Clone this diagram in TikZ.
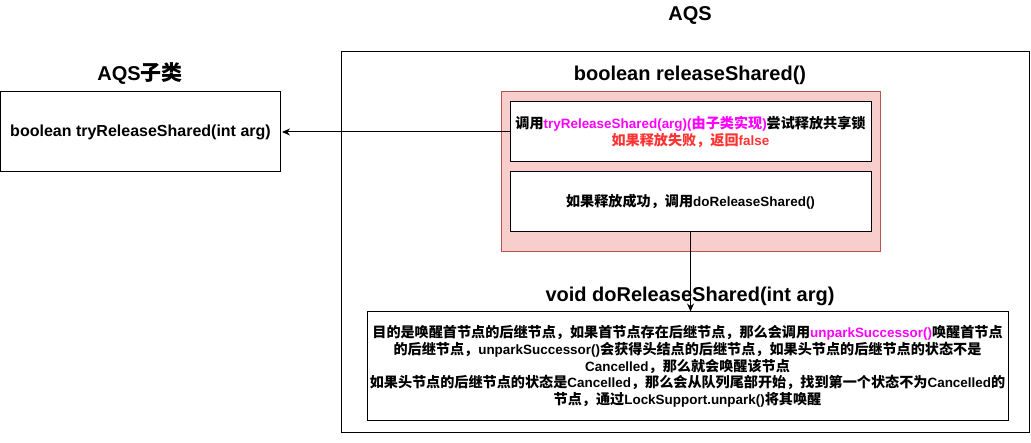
\documentclass[tikz,border=0pt]{standalone}
\usepackage{fontspec}
\setmainfont{Liberation Sans}
\newfontfamily\cjkfont[Scale=1.05]{Noto Sans CJK SC}
\newcommand\zh[1]{{\cjkfont #1}}
\usetikzlibrary{arrows.meta}
\definecolor{pinkfill}{HTML}{F8CECC}
\definecolor{pinkdraw}{HTML}{B85450}
\definecolor{mag}{HTML}{FF00FF}
\definecolor{redtxt}{HTML}{FF3333}
\tikzset{
  box/.style={draw=black, line width=1pt, fill=white, inner sep=0pt, align=center},
  body/.style={font=\bfseries\fontsize{13.45}{16.7}\selectfont},
  title/.style={font=\bfseries\fontsize{20}{24}\selectfont, anchor=base, inner sep=0pt},
  conn/.style={draw=black, line width=1pt, -{Stealth[length=8pt,width=7pt]}},
}
\begin{document}
\begin{tikzpicture}[x=1pt,y=-1pt]
\useasboundingbox (0,0) rectangle (1031,443);
% outer AQS frame
\node[draw=black, line width=1pt, minimum width=688pt, minimum height=381pt, inner sep=0pt] (aqs) at (685,242.5) {};
\node[title] (taqs) at (690,20.5) {AQS};
\node[title] (trel) at (690,80.5) {boolean releaseShared()};
\node[title] (tsub) at (140,81) {AQS\zh{子类}};
\node[title] (tdo) at (690,302) {void doReleaseShared(int arg)};
% pink group
\node[draw=pinkdraw, fill=pinkfill, line width=1pt, minimum width=379pt, minimum height=160pt, inner sep=0pt] (grp) at (690.5,172) {};
% inner boxes
\node[box, body, minimum width=361pt, minimum height=60pt] (b1) at (690.5,132) {\zh{调用}{\color{mag}tryReleaseShared(arg)(\zh{由子类实现})}\zh{尝试释放共享锁}\\{\color{redtxt}\zh{如果释放失败，返回}false}};
\node[box, body, minimum width=361pt, minimum height=60pt] (b2) at (690.5,202) {\zh{如果释放成功，调用}doReleaseShared()};
% left box
\node[box, font=\bfseries\fontsize{16}{19}\selectfont, minimum width=280pt, minimum height=80pt] (lbox) at (140.5,132) {boolean tryReleaseShared(int arg)};
% bottom box
\node[box, body, minimum width=641pt, minimum height=109pt] (bot) at (687.5,366.5) {\zh{目的是唤醒首节点的后继节点，如果首节点存在后继节点，那么会调用}{\color{mag}unparkSuccessor()}\zh{唤醒首节点}\\
\zh{的后继节点，}unparkSuccessor()\zh{会获得头结点的后继节点，如果头节点的后继节点的状态不是}\\
Cancelled\zh{，那么就会唤醒该节点}\\
\zh{如果头节点的后继节点的状态是}Cancelled\zh{，那么会从队列尾部开始，找到第一个状态不为}Cancelled\zh{的}\\
\zh{节点，通过}LockSupport.unpark()\zh{将其唤醒}};
% connectors
\draw[conn, shorten >=1pt] (b1.west) -- (lbox.east);
\draw[conn] (b2.south) -- (b2.south |- bot.north);
\end{tikzpicture}
\end{document}
